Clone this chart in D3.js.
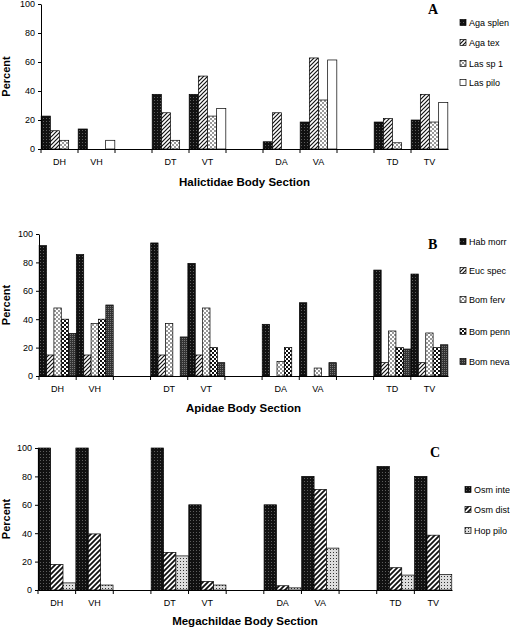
<!DOCTYPE html>
<html><head><meta charset="utf-8">
<script src="https://cdn.jsdelivr.net/npm/d3@7"></script>
<style>body{margin:0;background:#fff}svg{font-family:"Liberation Sans",Arial,sans-serif}</style>
</head><body><div id="graph"></div>
<script>
// categories (blank slots are the gaps between body regions)
const slots = ["DH","VH","g1","DT","VT","g2","DA","VA","g3","TD","TV"];
const sections = ["DH","VH","DT","VT","DA","VA","TD","TV"];
const yTicks = [0,20,40,60,80,100];

// panel A - Halictidae
const agaSplen = [22.7,13.8,37.7,37.7,5,18.6,18.6,20];
const agaTex   = [12.6,0,25,50.3,25,62.8,21,37.7];
const lasSp1   = [6,0,6,22.7,0,33.8,4.3,18.6];
const lasPilo  = [0,6,0,28,0,61.4,0,32];
// panel B - Apidae
const habMorr = [91.8,85.5,93.7,79.3,36.4,51.6,74.6,71.8];
const eucSpec = [14.8,14.8,14.8,14.8,0,0,9.4,9.4];
const bomFerv = [47.9,36.9,36.9,47.9,10.3,5.6,31.7,30.3];
const bomPenn = [40,40,0,20,20,0,20,20];
const bomNeva = [30,50,27.5,9.4,0,9.4,19,22];
// panel C - Megachilidae
const osmInte = [100,100,100,60,60,80,87,80];
const osmDist = [18,39.5,26.5,6,3,70.8,15.7,38.6];
const hopPilo = [5,3.5,24,3.5,1.5,29.5,10.5,11];

const svg = d3.select("#graph").append("svg").attr("width",510).attr("height",628);
const defs = svg.append("defs");

// fill patterns
function pat(id, size, draw){
  const p = defs.append("pattern").attr("id",id).attr("patternUnits","userSpaceOnUse")
    .attr("width",size).attr("height",size);
  draw(p); return "url(#"+id+")";
}
const fills = {
  dots: pat("dots",3,p=>{p.append("rect").attr("width",3).attr("height",3).attr("fill","#111");
    p.append("rect").attr("x",1).attr("y",1).attr("width",0.8).attr("height",0.8).attr("fill","#888");}),
  diag: pat("diag",4,p=>{p.append("rect").attr("width",4).attr("height",4).attr("fill","#fff");
    p.append("path").attr("d","M0,4L4,0M-1,1L1,-1M3,5L5,3").attr("stroke","#111").attr("stroke-width",1.2);}),
  diagBold: pat("diagBold",5,p=>{p.append("rect").attr("width",5).attr("height",5).attr("fill","#fff");
    p.append("path").attr("d","M0,5L5,0M-1,1L1,-1M4,6L6,4").attr("stroke","#111").attr("stroke-width",1.8);}),
  brick: pat("brick",4,p=>{p.append("rect").attr("width",4).attr("height",4).attr("fill","#fff");
    p.append("path").attr("d","M0,1H2M2,3H4").attr("stroke","#333").attr("stroke-width",1);}),
  white: "#fff",
  check: pat("check",4,p=>{p.append("rect").attr("width",4).attr("height",4).attr("fill","#fff");
    p.append("rect").attr("width",2).attr("height",2).attr("fill","#111");
    p.append("rect").attr("x",2).attr("y",2).attr("width",2).attr("height",2).attr("fill","#111");}),
  cross: pat("cross",2,p=>{p.append("rect").attr("width",2).attr("height",2).attr("fill","#333");
    p.append("rect").attr("width",1).attr("height",1).attr("fill","#777");}),
  speck: pat("speck",3,p=>{p.append("rect").attr("width",3).attr("height",3).attr("fill","#ddd");
    p.append("rect").attr("width",1).attr("height",1).attr("fill","#333");})
};

const panels = [
  {top:4, bottom:149, left:41, right:448, letter:"A", lx:428, ly:14, title:"Halictidae Body Section", ty:186,
   legX:460, legY:[23,43,64,83],
   series:[["Aga splen",agaSplen,fills.dots],["Aga tex",agaTex,fills.diag],["Las sp 1",lasSp1,fills.brick],["Las pilo",lasPilo,fills.white]]},
  {top:234, bottom:376, left:39, right:448, letter:"B", lx:428, ly:249, title:"Apidae Body Section", ty:412,
   legX:460, legY:[242,271,300,332,362],
   series:[["Hab morr",habMorr,fills.dots],["Euc spec",eucSpec,fills.diag],["Bom ferv",bomFerv,fills.brick],["Bom penn",bomPenn,fills.check],["Bom neva",bomNeva,fills.cross]]},
  {top:448, bottom:590, left:38, right:452, letter:"C", lx:430, ly:457, title:"Megachildae Body Section", ty:625,
   legX:465, legY:[490,510,531],
   series:[["Osm inte",osmInte,fills.dots],["Osm dist",osmDist,fills.diagBold],["Hop pilo",hopPilo,fills.speck]]}
];

panels.forEach(P=>{
  const x = d3.scaleBand().domain(slots).range([P.left,P.right]);
  const y = d3.scaleLinear().domain([0,100]).range([P.bottom,P.top]);
  const sub = d3.scaleBand().domain(d3.range(P.series.length)).range([0,x.bandwidth()]).paddingOuter(0.02);
  const g = svg.append("g");

  P.series.forEach((s,i)=>{
    g.selectAll(null).data(sections.map((c,j)=>({c,v:s[1][j]})).filter(d=>d.v>0)).enter().append("rect")
      .attr("x",d=>x(d.c)+sub(i)).attr("width",sub.bandwidth())
      .attr("y",d=>y(d.v)).attr("height",d=>y(0)-y(d.v))
      .attr("fill",s[2]).attr("stroke","#000").attr("stroke-width",0.7);
  });

  const yAx = g.append("g").attr("transform",`translate(${P.left},0)`)
    .call(d3.axisLeft(y).tickValues(yTicks).tickSize(3).tickSizeOuter(0));
  const xAx = g.append("g").attr("transform",`translate(0,${P.bottom})`)
    .call(d3.axisBottom(x).tickValues([]).tickSizeOuter(0));
  // ticks between groups
  g.selectAll(null).data(slots).enter().append("line")
    .attr("x1",d=>x(d)).attr("x2",d=>x(d)).attr("y1",P.bottom).attr("y2",P.bottom+4).attr("stroke","#000");
  g.selectAll(null).data(sections).enter().append("text")
    .attr("x",d=>x(d)+x.bandwidth()/2).attr("y",P.bottom+16).attr("text-anchor","middle")
    .attr("font-size",9).text(d=>d);
  [yAx,xAx].forEach(a=>{a.selectAll("text").attr("font-size",9).attr("font-family","Liberation Sans, Arial");
    a.selectAll("path,line").attr("stroke","#000");});

  g.append("text").attr("transform",`translate(10,${(P.top+P.bottom)/2}) rotate(-90)`)
    .attr("text-anchor","middle").attr("font-size",11).attr("font-weight","bold").text("Percent");
  g.append("text").attr("x",(P.left+P.right)/2).attr("y",P.ty).attr("text-anchor","middle")
    .attr("font-size",11.5).attr("font-weight","bold").text(P.title);
  g.append("text").attr("x",P.lx).attr("y",P.ly).attr("font-family","Liberation Serif, Times New Roman")
    .attr("font-size",14).attr("font-weight","bold").text(P.letter);

  P.series.forEach((s,i)=>{
    g.append("rect").attr("x",P.legX).attr("y",P.legY[i]-3.5).attr("width",6).attr("height",6)
      .attr("fill",s[2]).attr("stroke","#000").attr("stroke-width",0.7);
    g.append("text").attr("x",P.legX+9).attr("y",P.legY[i]+3).attr("font-size",9).text(s[0]);
  });
});
</script></body></html>
